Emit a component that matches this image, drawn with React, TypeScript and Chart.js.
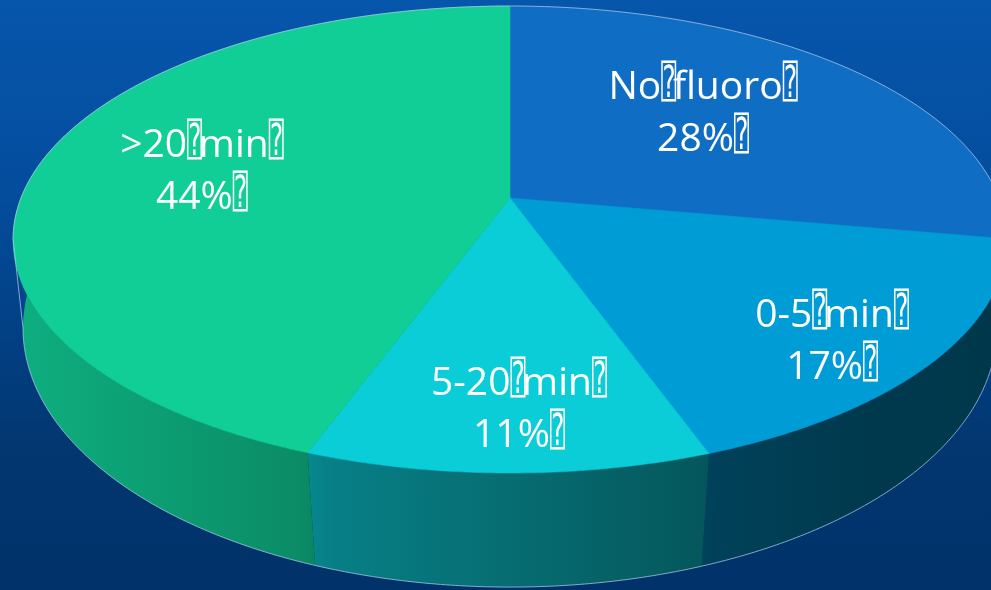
import React, { useEffect, useRef } from 'react';
import { Chart, registerables } from 'chart.js';

Chart.register(...registerables);

// ---- data ----
const categories = ['No fluoro', '0-5 min', '5-20 min', '>20 min'];
const shares = [27.8, 16.7, 11.1, 44.4];
const topColors = ['#0F6EC4', '#009CD6', '#0BCDD8', '#10CE96'];

// ---- layout / style ----
const W = 991;
const H = 590;
const BOX = '\u2370';
// perspective projection of the top and bottom faces (disk -> screen)
const TOP = { cx: 510, cy: 198, A: 489, B: 226.1, k: 0.1777 };
const BOT = { cx: 510, cy: 286.6, A: 480.7, B: 252.4, k: 0.16 };
// label placement in disk coordinates (radius fraction, angle nudge in degrees)
const labelRadius = [0.585, 0.817, 0.797, 0.66];
const labelNudge = [-4.2, 3.7, -1.1, 1];
const shadeStops: [number, number][] = [
  [13, 0.85], [300, 0.68], [330, 0.62], [510, 0.53], [660, 0.45], [710, 0.42], [850, 0.37], [1007, 0.35],
];
const FONT = '39px "Open Sans", "Noto Sans", sans-serif';
const BOX_FONT = '44px "DejaVu Sans Mono", "DejaVu Sans", sans-serif';

function proj(g: any, t: number, r = 1): [number, number] {
  const c = Math.cos(t) * r;
  const s = Math.sin(t) * r;
  const d = 1 - g.k * s;
  return [g.cx + (g.A * c) / d, g.cy + (g.B * s) / d];
}

function rgb(hex: string): [number, number, number] {
  const n = parseInt(hex.slice(1), 16);
  return [(n >> 16) & 255, (n >> 8) & 255, n & 255];
}

const STEP = Math.PI / 360;

function arcPts(g: any, a: number, b: number): [number, number][] {
  const pts: [number, number][] = [];
  const n = Math.max(2, Math.ceil(Math.abs(b - a) / STEP));
  for (let i = 0; i <= n; i++) pts.push(proj(g, a + ((b - a) * i) / n));
  return pts;
}

const bgPlugin = {
  id: 'bg',
  beforeDraw(chart: any) {
    const ctx = chart.ctx;
    const g = ctx.createLinearGradient(0, 0, 0, H);
    g.addColorStop(0, '#0656AC');
    g.addColorStop(0.34, '#044C9C');
    g.addColorStop(0.6, '#023E80');
    g.addColorStop(0.78, '#02366F');
    g.addColorStop(1, '#01326A');
    ctx.save();
    ctx.fillStyle = g;
    ctx.fillRect(0, 0, chart.width, chart.height);
    ctx.restore();
  },
};

const pie3dPlugin = {
  id: 'pie3d',
  beforeDatasetsDraw(chart: any) {
    const ctx = chart.ctx;
    const meta = chart.getDatasetMeta(0);
    const arcs = meta.data as any[];
    ctx.save();
    // side walls
    arcs.forEach((el: any, i: number) => {
      const { startAngle, endAngle } = el.getProps(['startAngle', 'endAngle'], true);
      const top = arcPts(TOP, startAngle, endAngle);
      const bot = arcPts(BOT, endAngle, startAngle);
      const [r, g, b] = rgb(topColors[i]);
      const grad = ctx.createLinearGradient(13, 0, 1007, 0);
      shadeStops.forEach(([x, f]) => {
        grad.addColorStop((x - 13) / 994, `rgb(${Math.round(r * f)},${Math.round(g * f)},${Math.round(b * f)})`);
      });
      ctx.beginPath();
      top.forEach(([x, y], j) => (j ? ctx.lineTo(x, y) : ctx.moveTo(x, y)));
      bot.forEach(([x, y]) => ctx.lineTo(x, y));
      ctx.closePath();
      ctx.fillStyle = grad;
      ctx.fill();
    });
    // top faces
    arcs.forEach((el: any, i: number) => {
      const { startAngle, endAngle } = el.getProps(['startAngle', 'endAngle'], true);
      const pts = arcPts(TOP, startAngle, endAngle);
      ctx.beginPath();
      ctx.moveTo(TOP.cx, TOP.cy);
      pts.forEach(([x, y]) => ctx.lineTo(x, y));
      ctx.closePath();
      ctx.fillStyle = topColors[i];
      ctx.fill();
      ctx.strokeStyle = topColors[i];
      ctx.lineWidth = 0.6;
      ctx.stroke();
    });
    // silhouette outline
    const aT = Math.asin(TOP.k);
    const aB = Math.asin(BOT.k);
    const back = arcPts(TOP, Math.PI - aT, 2 * Math.PI + aT);
    const front = arcPts(BOT, aB, Math.PI - aB);
    ctx.beginPath();
    back.forEach(([x, y], j) => (j ? ctx.lineTo(x, y) : ctx.moveTo(x, y)));
    front.forEach(([x, y]) => ctx.lineTo(x, y));
    ctx.closePath();
    ctx.strokeStyle = 'rgba(175,200,235,0.75)';
    ctx.lineWidth = 1;
    ctx.stroke();
    ctx.restore();
    return false;
  },
};

function drawRich(ctx: CanvasRenderingContext2D, text: string, cx: number, y: number) {
  const parts = text.split(BOX);
  const spaceW = ctx.measureText(' ').width;
  const boxAdv = spaceW * 1.15;
  const boxW = 15;
  let total = 0;
  parts.forEach((p, i) => {
    total += ctx.measureText(p).width;
    if (i < parts.length - 1) total += boxAdv;
  });
  let x = cx - total / 2;
  parts.forEach((p, i) => {
    if (p) ctx.fillText(p, x, y);
    x += ctx.measureText(p).width;
    if (i < parts.length - 1) {
      ctx.save();
      ctx.font = BOX_FONT;
      ctx.fillText(BOX, x, y - 2, boxW);
      ctx.restore();
      x += boxAdv;
    }
  });
}

const labelPlugin = {
  id: 'labels3d',
  afterDraw(chart: any) {
    const ctx = chart.ctx;
    const meta = chart.getDatasetMeta(0);
    const total = shares.reduce((a, b) => a + b, 0);
    ctx.save();
    ctx.font = FONT;
    ctx.fillStyle = '#FFFFFF';
    ctx.textAlign = 'left';
    ctx.textBaseline = 'alphabetic';
    meta.data.forEach((el: any, i: number) => {
      const { startAngle, endAngle } = el.getProps(['startAngle', 'endAngle'], true);
      const mid = (startAngle + endAngle) / 2 + (labelNudge[i] * Math.PI) / 180;
      const [x, y] = proj(TOP, mid, labelRadius[i]);
      const line1 = categories[i].replace(/ /g, BOX) + BOX;
      const line2 = `${Math.round((shares[i] / total) * 100)}%` + BOX;
      drawRich(ctx, line1, x, y - 13);
      drawRich(ctx, line2, x, y + 39);
    });
    ctx.restore();
  },
};

export default function App() {
  const ref = useRef<HTMLCanvasElement | null>(null);
  useEffect(() => {
    if (!ref.current) return;
    const chart = new Chart(ref.current, {
      type: 'pie',
      data: {
        labels: categories,
        datasets: [{ data: shares, backgroundColor: topColors, borderWidth: 0 }],
      },
      options: {
        responsive: false,
        animation: false,
        events: [],
        layout: { padding: 0 },
        plugins: { legend: { display: false }, tooltip: { enabled: false } },
      },
      plugins: [bgPlugin, pie3dPlugin, labelPlugin],
    } as any);
    return () => chart.destroy();
  }, []);
  return (
    <div style={{ position: 'fixed', left: 0, top: 0, width: W, height: H, overflow: 'hidden' }}>
      <canvas ref={ref} width={W} height={H} style={{ display: 'block' }} />
    </div>
  );
}
